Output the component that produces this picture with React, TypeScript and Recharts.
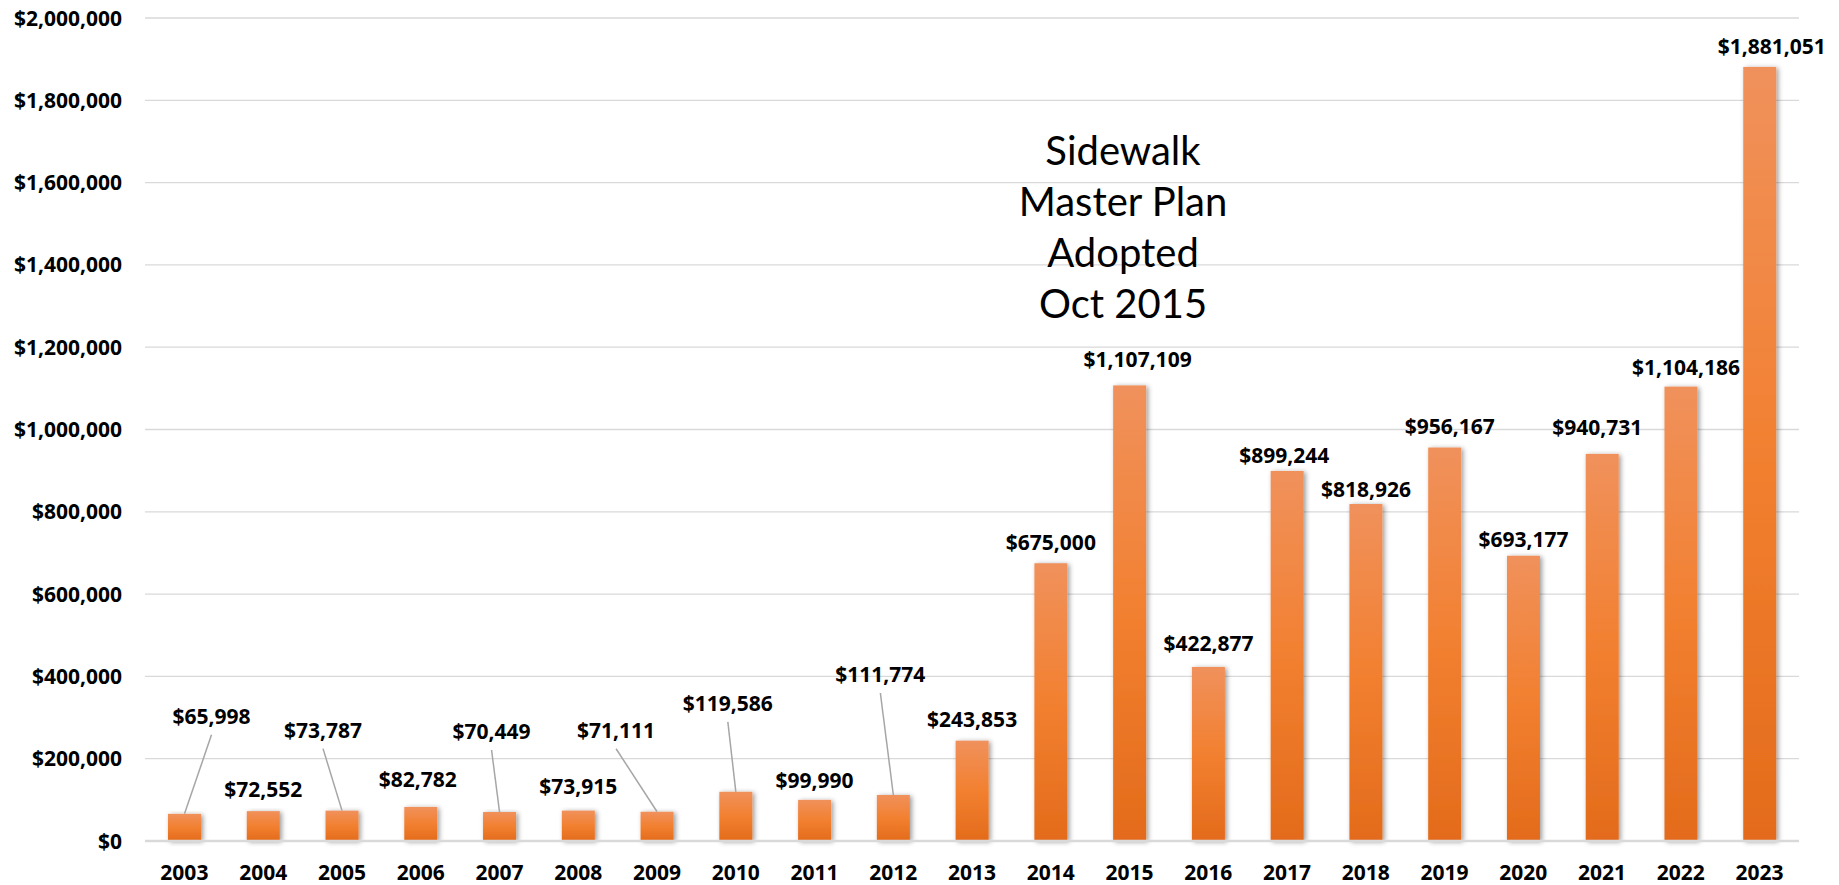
import React from 'react';
import { BarChart, Bar, XAxis, YAxis, CartesianGrid } from 'recharts';

const years = ['2003','2004','2005','2006','2007','2008','2009','2010','2011','2012','2013','2014','2015','2016','2017','2018','2019','2020','2021','2022','2023'];
const amounts = [65998, 72552, 73787, 82782, 70449, 73915, 71111, 119586, 99990, 111774, 243853, 675000, 1107109, 422877, 899244, 818926, 956167, 693177, 940731, 1104186, 1881051];
const yTicks = [0, 200000, 400000, 600000, 800000, 1000000, 1200000, 1400000, 1600000, 1800000, 2000000];
const annotationLines = ['Sidewalk', 'Master Plan', 'Adopted', 'Oct 2015'];

const data = years.map((year, i) => ({ year, amount: amounts[i] }));

// label placement nudges (layout only): dx from bar centre, dy = baseline relative to bar top
const labelNudge: Record<string, { dx: number; dy: number; leader?: boolean }> = {
  '2003': { dx: 27, dy: -90, leader: true },
  '2004': { dx: 0, dy: -14 },
  '2005': { dx: -19, dy: -73, leader: true },
  '2006': { dx: -3, dy: -20 },
  '2007': { dx: -8, dy: -73, leader: true },
  '2008': { dx: 0, dy: -17 },
  '2009': { dx: -41, dy: -74, leader: true },
  '2010': { dx: -8, dy: -81, leader: true },
  '2011': { dx: 0, dy: -12 },
  '2012': { dx: -13, dy: -113, leader: true },
  '2013': { dx: 0, dy: -14 },
  '2014': { dx: 0, dy: -13 },
  '2015': { dx: 8, dy: -18 },
  '2016': { dx: 0, dy: -16 },
  '2017': { dx: -3, dy: -8 },
  '2018': { dx: 0, dy: -7 },
  '2019': { dx: 5, dy: -14 },
  '2020': { dx: 0, dy: -9 },
  '2021': { dx: -5, dy: -19 },
  '2022': { dx: 5, dy: -12 },
  '2023': { dx: 12, dy: -13 },
};

const FONT = "'Open Sans', Lato, sans-serif";
const ANN_FONT = "Lato, 'Open Sans', sans-serif";
const fmt = (v: number) => '$' + v.toLocaleString('en-US');

const BarShape = (props: any) => {
  const { x, y, width, height, index } = props;
  const year = years[index];
  const n = labelNudge[year] || { dx: 0, dy: -13 };
  const cx = x + width / 2;
  const lx = cx + n.dx;
  const ly = y + n.dy;
  return (
    <g>
      <rect x={x} y={y} width={width} height={height} fill="url(#barGrad)" filter="url(#barShadow)" />
      {n.leader && (
        <line x1={lx} y1={ly + 11} x2={cx} y2={y} stroke="#A6A6A6" strokeWidth={1.5} />
      )}
      <text x={lx} y={ly} textAnchor="middle" fontFamily={FONT} fontWeight={700} fontSize={21} fill="#000">
        {fmt(amounts[index])}
      </text>
    </g>
  );
};

const XTick = (props: any) => {
  const { x, y, payload } = props;
  return (
    <text x={x} y={y + 39} textAnchor="middle" fontFamily={FONT} fontWeight={700} fontSize={21} fill="#000">
      {payload.value}
    </text>
  );
};

const YTick = (props: any) => {
  const { y, payload } = props;
  return (
    <text x={122} y={y + 7.5} textAnchor="end" fontFamily={FONT} fontWeight={700} fontSize={21} fill="#000">
      {fmt(payload.value)}
    </text>
  );
};

export default function App() {
  return (
    <div style={{ position: 'absolute', left: 0, top: 0, width: 1839, height: 885, background: '#fff' }}>
      <svg width={0} height={0} style={{ position: 'absolute' }}>
        <defs>
          <linearGradient id="barGrad" x1="0" y1="0" x2="0" y2="1">
            <stop offset="0%" stopColor="#F0915C" />
            <stop offset="50%" stopColor="#F28030" />
            <stop offset="100%" stopColor="#E36B1B" />
          </linearGradient>
          <filter id="barShadow" x="-50%" y="-10%" width="200%" height="130%">
            <feDropShadow dx="2" dy="1" stdDeviation="2.5" floodColor="#000" floodOpacity="0.4" />
          </filter>
        </defs>
      </svg>
      <BarChart
        width={1839}
        height={885}
        data={data}
        margin={{ top: 18, right: 40, bottom: 0, left: 0 }}
        barCategoryGap={0}
      >
        <CartesianGrid vertical={false} stroke="#D9D9D9" strokeWidth={1.3} />
        <XAxis
          dataKey="year"
          height={44}
          tickLine={false}
          tickSize={0}
          tickMargin={0}
          axisLine={{ stroke: '#D9D9D9', strokeWidth: 2.5 }}
          tick={<XTick />}
          interval={0}
        />
        <YAxis
          width={145}
          domain={[0, 2000000]}
          ticks={yTicks}
          tickLine={false}
          axisLine={false}
          tick={<YTick />}
          interval={0}
        />
        <Bar dataKey="amount" barSize={33} shape={<BarShape />} isAnimationActive={false} />
      </BarChart>
      <svg width={1839} height={885} style={{ position: 'absolute', left: 0, top: 0, pointerEvents: 'none' }}>
        {annotationLines.map((t, i) => (
          <text key={t} x={1123} y={165 + i * 51} textAnchor="middle" fontFamily={ANN_FONT} fontSize={40} fill="#000">
            {t}
          </text>
        ))}
      </svg>
    </div>
  );
}
